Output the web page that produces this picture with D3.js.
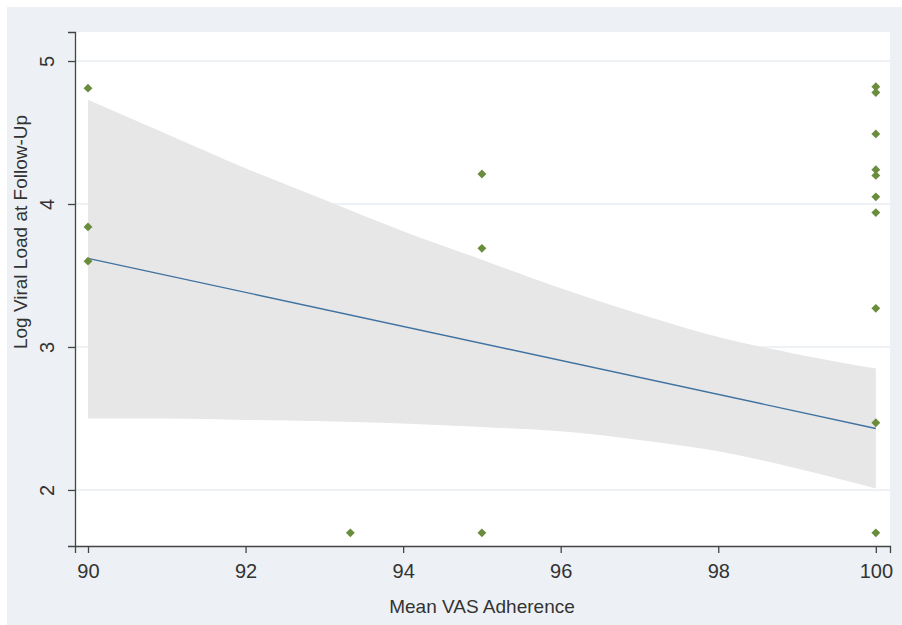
<!DOCTYPE html>
<html lang="en">
<head>
<meta charset="UTF-8">
<title>Viral load vs VAS adherence</title>
<script src="https://d3js.org/d3.v7.min.js"></script>
<style>
  body { margin: 0; background: #fff; }
  svg { display: block; font-family: "Liberation Sans", Arial, sans-serif; }
</style>
</head>
<body>
<svg id="chart" width="902" height="625"></svg>
<script>
// observed points (adherence %, log viral load)
const adherence = [90, 90, 90, 93.33, 95, 95, 95,
  100, 100, 100, 100, 100, 100, 100, 100, 100, 100];
const viralLoad = [4.81, 3.84, 3.60, 1.70, 4.21, 3.69, 1.70,
  4.82, 4.78, 4.49, 4.24, 4.20, 4.05, 3.94, 3.27, 2.47, 1.70];

// fitted line
const fitX = [90, 100];
const fitY = [3.62, 2.43];

// confidence band
const bandX = [90, 91, 92, 93, 94, 95, 96, 97, 98, 99, 100];
const bandHi = [4.73, 4.49, 4.25, 4.03, 3.81, 3.61, 3.41, 3.23, 3.07, 2.95, 2.85];
const bandLo = [2.50, 2.50, 2.49, 2.48, 2.465, 2.44, 2.41, 2.35, 2.27, 2.15, 2.01];

const xTicks = [90, 92, 94, 96, 98, 100];
const yTicks = [2, 3, 4, 5];

const svg = d3.select('#chart');

// outer panel
svg.append('rect')
  .attr('x', 7).attr('y', 7)
  .attr('width', 895).attr('height', 618)
  .attr('fill', '#edf1f5');

const plotL = 75, plotR = 890, plotT = 32, plotB = 546;

svg.append('rect')
  .attr('x', plotL).attr('y', plotT)
  .attr('width', plotR - plotL).attr('height', plotB - plotT)
  .attr('fill', '#ffffff');

const x = d3.scaleLinear().domain([89.835, 100.18]).range([plotL, plotR]);
const y = d3.scaleLinear().domain([1.608, 5.203]).range([plotB, plotT]);

// grid
svg.append('g')
  .selectAll('line')
  .data(yTicks)
  .join('line')
  .attr('x1', plotL).attr('x2', plotR)
  .attr('y1', d => y(d)).attr('y2', d => y(d))
  .attr('stroke', '#eaeef2')
  .attr('stroke-width', 1.5);

// band
const band = bandX.map((d, i) => ({ x: d, lo: bandLo[i], hi: bandHi[i] }));
const area = d3.area()
  .x(d => x(d.x))
  .y0(d => y(d.lo))
  .y1(d => y(d.hi))
  .curve(d3.curveMonotoneX);

svg.append('path')
  .attr('d', area(band))
  .attr('fill', '#e7e7e7');

// fit line
const fit = fitX.map((d, i) => ({ x: d, y: fitY[i] }));
svg.append('path')
  .attr('d', d3.line().x(d => x(d.x)).y(d => y(d.y))(fit))
  .attr('fill', 'none')
  .attr('stroke', '#3f72a0')
  .attr('stroke-width', 1.4);

// points
const pts = viralLoad.map((d, i) => ({ x: adherence[i], y: d }));
svg.append('g')
  .selectAll('path')
  .data(pts)
  .join('path')
  .attr('transform', d => `translate(${x(d.x)},${y(d.y)})`)
  .attr('d', d3.symbol().type(d3.symbolDiamond2).size(50))
  .attr('fill', '#6a8d3d');

// axes
const xAxis = svg.append('g')
  .attr('transform', `translate(0,${plotB})`)
  .call(d3.axisBottom(x).tickValues(xTicks).tickSizeOuter(0).tickSize(7));

xAxis.selectAll('text')
  .attr('dy', null)
  .attr('y', 32)
  .attr('font-size', 20)
  .attr('fill', '#333');

const yAxis = svg.append('g')
  .attr('transform', `translate(${plotL},0)`)
  .call(d3.axisLeft(y).tickValues(yTicks).tickFormat(d3.format('d'))
    .tickSizeOuter(0).tickSize(7));

yAxis.selectAll('text')
  .attr('x', null).attr('dy', null)
  .attr('text-anchor', 'middle')
  .attr('transform', 'translate(-21,0) rotate(-90)')
  .attr('font-size', 20)
  .attr('fill', '#333');

svg.selectAll('.domain, .tick line')
  .attr('stroke', '#444')
  .attr('stroke-width', 1.3);

// titles
svg.append('text')
  .attr('x', 482).attr('y', 613)
  .attr('text-anchor', 'middle')
  .attr('font-size', 19)
  .attr('fill', '#333')
  .text('Mean VAS Adherence');

svg.append('text')
  .attr('transform', 'translate(27,232) rotate(-90)')
  .attr('text-anchor', 'middle')
  .attr('font-size', 19)
  .attr('fill', '#333')
  .text('Log Viral Load at Follow-Up');
</script>
</body>
</html>
